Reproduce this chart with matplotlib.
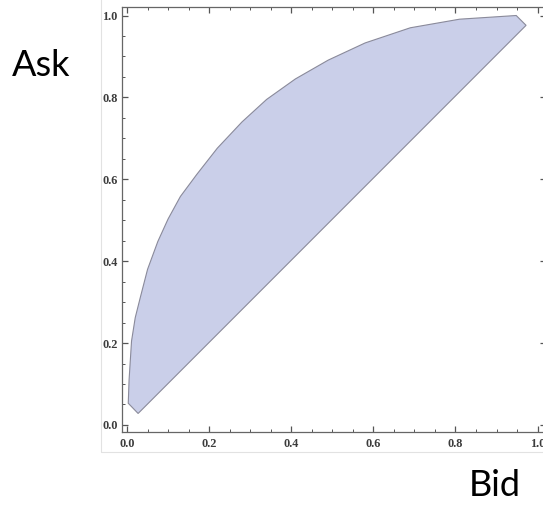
import matplotlib.pyplot as plt
import numpy as np
from matplotlib.patches import Rectangle
from matplotlib.ticker import MultipleLocator

# bordo superiore della regione (bid, ask)
curva_bid = [0.003, 0.005, 0.011, 0.020, 0.032, 0.050, 0.075, 0.100, 0.130,
             0.170, 0.220, 0.280, 0.340, 0.410, 0.490, 0.580, 0.690, 0.810, 0.948]
curva_ask = [0.053, 0.110, 0.205, 0.262, 0.310, 0.380, 0.448, 0.503, 0.558,
             0.612, 0.676, 0.740, 0.795, 0.845, 0.891, 0.933, 0.970, 0.991, 1.000]

# vertici del lato destro e del bordo inferiore (diagonale)
angolo_bid = [0.972, 0.027]
angolo_ask = [0.976, 0.028]

poly_x = np.array(curva_bid + angolo_bid)
poly_y = np.array(curva_ask + angolo_ask)

fig = plt.figure(figsize=(5.43, 5.08), dpi=100)

# cornice chiara attorno al grafico (stile immagine esportata)
fig.patches.append(Rectangle((0.186, 0.110), 1.0, 1.0, transform=fig.transFigure,
                             fill=False, edgecolor='#e2e2e2', linewidth=0.8))

ax = fig.add_axes([0.2241, 0.149, 0.781, 0.8366])
ax.fill(poly_x, poly_y, facecolor='#cacfe9', edgecolor='#8a8a9a', linewidth=0.8)

ax.set_xlim(-0.013, 1.02)
ax.set_ylim(-0.018, 1.02)

ax.xaxis.set_major_locator(MultipleLocator(0.2))
ax.yaxis.set_major_locator(MultipleLocator(0.2))
ax.xaxis.set_minor_locator(MultipleLocator(0.05))
ax.yaxis.set_minor_locator(MultipleLocator(0.05))
ax.xaxis.set_major_formatter(lambda v, p: f"{v:.1f}")
ax.yaxis.set_major_formatter(lambda v, p: f"{v:.1f}")

ax.tick_params(which='both', direction='in', top=True, right=True,
               colors='#555555', labelcolor='#3c3c3c')
ax.tick_params(which='major', length=4.5, width=0.9)
ax.tick_params(which='minor', length=2.5, width=0.7)
for lab in ax.get_xticklabels() + ax.get_yticklabels():
    lab.set_family('Liberation Serif')
    lab.set_fontsize(8.8)
    lab.set_fontweight('bold')
ax.tick_params(axis='x', pad=4)
ax.tick_params(axis='y', pad=3)

for s in ax.spines.values():
    s.set_color('#666666')
    s.set_linewidth(0.9)

fig.text(41 / 543, 1 - 66 / 508, "Ask", fontsize=26, family='Lato',
         ha='center', va='center')
fig.text(495 / 543, 1 - 486 / 508, "Bid", fontsize=26, family='Lato',
         ha='center', va='center')

plt.savefig("out.png", dpi=100)
